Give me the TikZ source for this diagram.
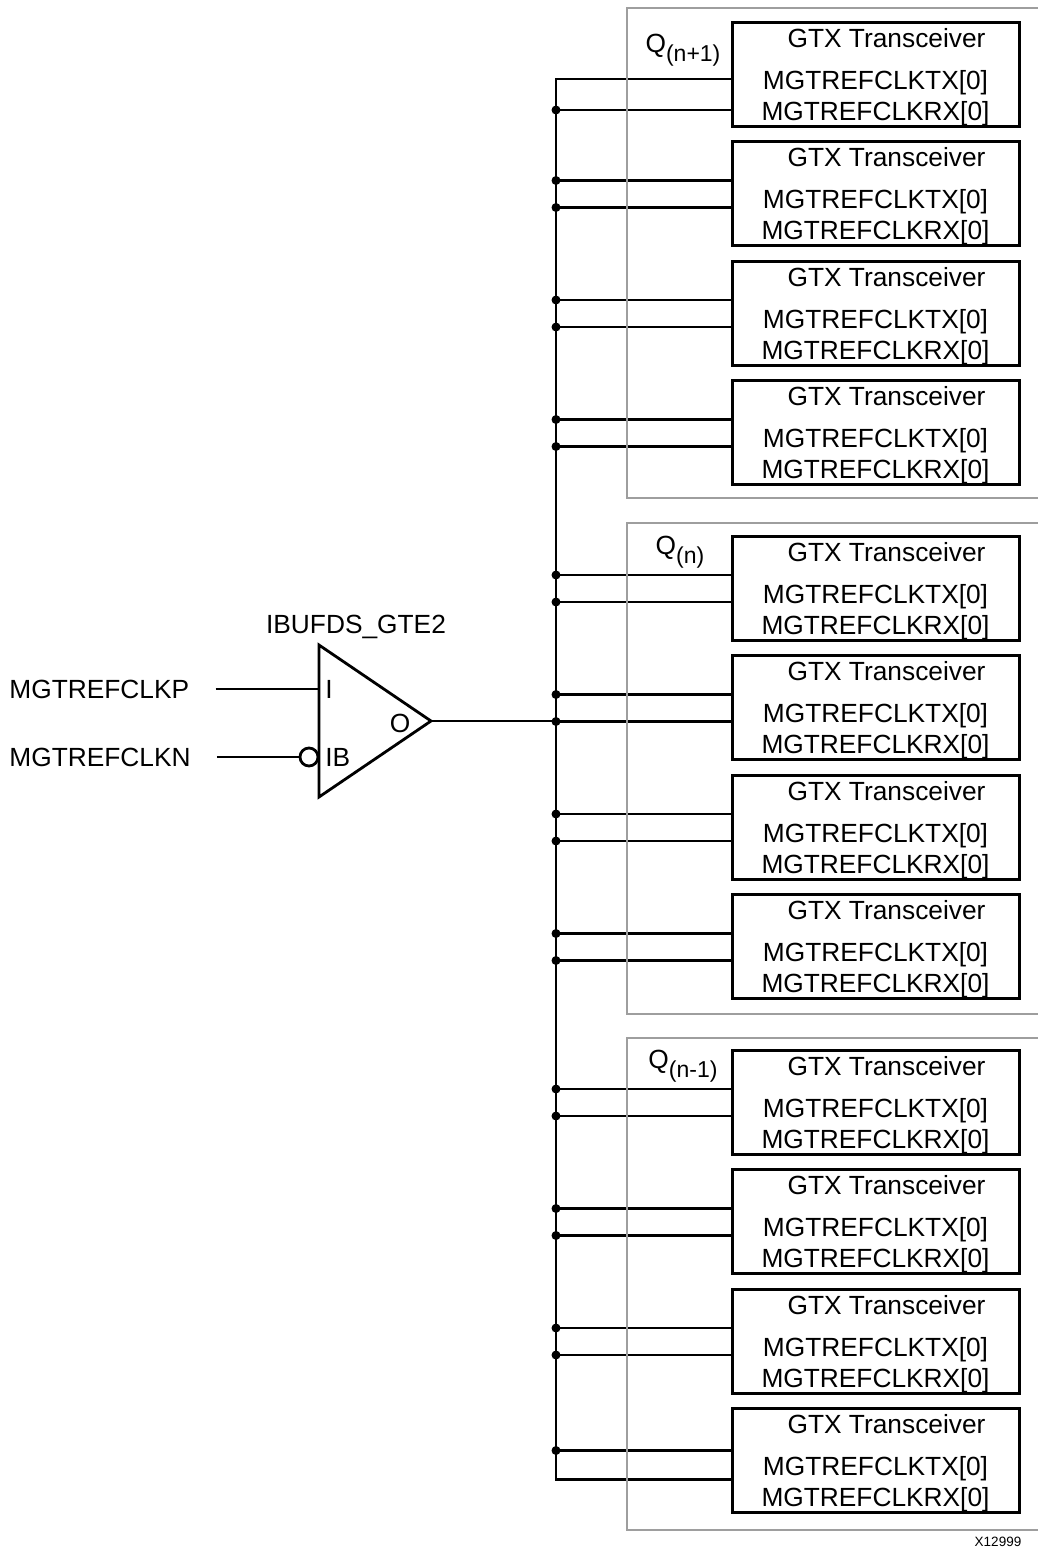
\documentclass[tikz,border=0pt]{standalone}
\usepackage{fontspec}
\setmainfont{Liberation Sans}
\usepackage{tikz}
\usetikzlibrary{positioning, calc}

% text of one transceiver box
\newcommand{\gtxbody}{\rule{0pt}{25pt}\hspace*{22pt}GTX Transceiver\\[11pt]MGTREFCLKTX[0]\\MGTREFCLKRX[0]}
% lowered quad index
\newcommand{\qsub}[1]{\raisebox{-9pt}{\fontsize{23}{23}\selectfont #1}}

\begin{document}
\begin{tikzpicture}[
    x=1pt, y=-1pt, % one unit per pixel, y grows downwards
    line width=2.8pt, % thickness of the clock wires
    node distance=15.5pt, % gap between transceivers of one quad
    gtx/.style={draw, line width=3pt, minimum width=287pt, minimum height=104pt,
        inner sep=0pt, outer sep=0pt, align=center, font=\fontsize{26.3}{31}\selectfont},
    quad/.style={draw=black!38, line width=2.6pt},
    txt/.style={inner sep=0pt, font=\fontsize{26.3}{31}\selectfont}
]
\useasboundingbox (0,0) rectangle (1038,1553);

% Transceivers, quad n+1
\node[gtx, anchor=north west] (T1) at (732,22) {\gtxbody};
\node[gtx, below=of T1] (T2) {\gtxbody};
\node[gtx, below=of T2] (T3) {\gtxbody};
\node[gtx, below=of T3] (T4) {\gtxbody};
% quad n
\node[gtx, below=51.5pt of T4] (T5) {\gtxbody};
\node[gtx, below=of T5] (T6) {\gtxbody};
\node[gtx, below=of T6] (T7) {\gtxbody};
\node[gtx, below=of T7] (T8) {\gtxbody};
% quad n-1
\node[gtx, below=51.5pt of T8] (T9) {\gtxbody};
\node[gtx, below=of T9] (T10) {\gtxbody};
\node[gtx, below=of T10] (T11) {\gtxbody};
\node[gtx, below=of T11] (T12) {\gtxbody};

% Clock pins on the left side of each transceiver
\foreach \k/\a/\b in {1/5/36, 2/-13/14, 3/-13/14, 4/-13/14, 5/-13/14, 6/-13/14,
    7/-13/14, 8/-13/14, 9/-13/14, 10/-13/14, 11/-13/14, 12/-10/19} {
  \coordinate (tx\k) at ($(T\k.west)+(0,\a)$);
  \coordinate (rx\k) at ($(T\k.west)+(0,\b)$);
}

% Buffer
\coordinate (bus) at (556,0);
\coordinate (bufT) at (319,645);
\coordinate (bufB) at (319,797);
\coordinate (bufO) at (431,721);
\coordinate (bufI) at (319,689);
\coordinate (bufIB) at (300,757);
\draw (bufT) -- (bufO) -- (bufB) -- cycle;
\draw ($(bufIB)+(9,0)$) circle[radius=9];
\node[txt, anchor=base] (ibuf) at (356,633) {IBUFDS\_GTE2};
\node[txt, anchor=west] (pinI) at (324,689) {I};
\node[txt, anchor=west] (pinIB) at (324,757) {IB};
\node[txt] (pinO) at (400,723) {O};

% Inputs
\node[txt, anchor=west] (clkp) at (8,689) {MGTREFCLKP};
\node[txt, anchor=west] (clkn) at (8,757) {MGTREFCLKN};
\draw ([xshift=25pt]clkp.east) -- (bufI);
\draw ([xshift=25pt]clkn.east) -- (bufIB);

% Clock bus
\draw (tx1) -| (rx12 -| bus) -- (rx12);
\draw (bufO) -- (bufO -| bus);
\foreach \p in {rx1, tx2, rx2, tx3, rx3, tx4, rx4, tx5, rx5, tx6, rx6, tx7, rx7,
    tx8, rx8, tx9, rx9, tx10, rx10, tx11, rx11, tx12} {
  \draw (\p -| bus) -- (\p);
  \fill (\p -| bus) circle[radius=4.5];
}

% Quads
\draw[quad] (1045,8) -| (627,498) -- (1045,498);
\draw[quad] (1045,523) -| (627,1014) -- (1045,1014);
\draw[quad] (1045,1038) -| (627,1530) -- (1045,1530);
\node[txt, anchor=base] (Qa) at (683,52) {Q\qsub{(n+1)}};
\node[txt, anchor=base] (Qb) at (680,554) {Q\qsub{(n)}};
\node[txt, anchor=base] (Qc) at (683,1068) {Q\qsub{(n-1)}};

\node[inner sep=0pt, font=\fontsize{13.5}{16}\selectfont, anchor=base] (fig) at (998,1546) {X12999};

\end{tikzpicture}
\end{document}
